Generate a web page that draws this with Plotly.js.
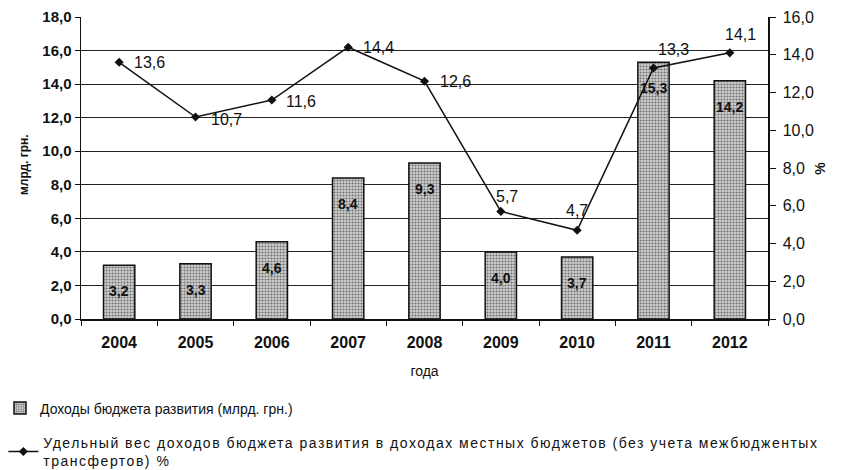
<!DOCTYPE html>
<html><head><meta charset="utf-8">
<script src="https://cdn.plot.ly/plotly-3.0.1.min.js"></script>
<style>body{margin:0;background:#fff}#c{width:842px;height:470px}</style>
</head><body><div id="c"></div>
<script>
const years = ['2004','2005','2006','2007','2008','2009','2010','2011','2012'];
const budgetRevenue = [3.2, 3.3, 4.6, 8.4, 9.3, 4.0, 3.7, 15.3, 14.2];
const sharePercent = [13.6, 10.7, 11.6, 14.4, 12.6, 5.7, 4.7, 13.3, 14.1];
const barName = 'Доходы бюджета развития (млрд. грн.)';
const lineName = 'Удельный вес доходов бюджета развития в доходах местных бюджетов (без учета межбюджентых<br>трансфертов) %';
const yTitle = 'млрд. грн.';
const y2Title = '%';
const xTitle = 'года';

const fmt = v => v.toFixed(1).replace('.', ',');
// label placement offsets (px) for line labels
const lineLabelShift = [[30,0],[31,-2],[29,-1],[30,0],[31,0],[6,15],[0,20],[20,18],[11,18]];

const FF = 'Liberation Sans, Arial, sans-serif';
const font = {family: FF, size: 13, color: '#111'};

const annotations = [];
budgetRevenue.forEach((v, i) => {
  annotations.push({x: i, y: v - 1.55, xref: 'x', yref: 'y', text: '<b>' + fmt(v) + '</b>', showarrow: false,
    font: {family: FF, size: 14, color: '#111'}});
});
sharePercent.forEach((v, i) => {
  annotations.push({x: i, y: v, xref: 'x', yref: 'y2', text: fmt(v), showarrow: false,
    xshift: lineLabelShift[i][0], yshift: lineLabelShift[i][1],
    font: {family: FF, size: 16, color: '#111'}});
});
annotations.push({xref: 'paper', yref: 'paper', x: -0.096, y: 0.51, text: '<b>' + yTitle + '</b>',
  textangle: -90, showarrow: false, font: {family: FF, size: 12, color: '#111'}});
annotations.push({xref: 'paper', yref: 'paper', x: 1.09, y: 0.5, text: '<b>' + y2Title + '</b>',
  textangle: -90, showarrow: false, font: {family: FF, size: 14, color: '#111'}});

const data = [
  {type: 'bar', x: years, y: budgetRevenue, name: barName, width: 0.41,
   marker: {color: '#c0c0c0', line: {color: '#111', width: 1.5},
            pattern: {shape: '.', fgcolor: '#707070', bgcolor: '#d0d0d0', size: 3, solidity: 0.38}},
   legend: 'legend', hoverinfo: 'skip'},
  {type: 'scatter', mode: 'lines+markers', x: years, y: sharePercent, yaxis: 'y2',
   name: '<span style="letter-spacing:1.5px">' + lineName + '</span>',
   line: {color: '#111', width: 1.5}, marker: {symbol: 'diamond', size: 7, color: '#111'},
   legend: 'legend2', hoverinfo: 'skip'}
];

const layout = {
  width: 842, height: 470,
  margin: {l: 81, r: 74, t: 17, b: 151, autoexpand: false},
  paper_bgcolor: '#fff', plot_bgcolor: '#fff',
  separators: ', ',
  font: font,
  showlegend: true,
  legend: {xref: 'container', yref: 'container', x: 0, xanchor: 'left', y: 0.165, yanchor: 'top',
           font: {family: FF, size: 14, color: '#111'}, bgcolor: 'rgba(0,0,0,0)'},
  legend2: {xref: 'container', yref: 'container', x: 0.004, xanchor: 'left', y: 0.092, yanchor: 'top',
           font: {family: FF, size: 14, color: '#111'}, bgcolor: 'rgba(0,0,0,0)'},
  xaxis: {type: 'category', range: [-0.5, 8.5], showline: true, linecolor: '#111', linewidth: 1.5,
          ticks: 'outside', ticklen: 5, tickcolor: '#111', tickson: 'boundaries', ticklabelstandoff: 8,
          tickfont: {family: FF, size: 16, color: '#111', weight: 'bold'},
          title: {text: xTitle, font: {family: FF, size: 14, color: '#111'}, standoff: 16},
          automargin: false},
  yaxis: {range: [0, 18], dtick: 2, tickformat: '.1f', showline: true, linecolor: '#111', linewidth: 1.5,
          ticks: 'outside', ticklen: 5, tickcolor: '#111', showgrid: true, gridcolor: '#222', gridwidth: 1,
          zeroline: false, tickfont: {family: FF, size: 15, color: '#111', weight: 'bold'},
          automargin: false},
  yaxis2: {range: [0, 16], dtick: 2, tickformat: '.1f', overlaying: 'y', side: 'right',
           showline: true, linecolor: '#111', linewidth: 1.5, ticks: 'outside', ticklen: 6, tickcolor: '#111',
           ticklabelstandoff: 4,
           showgrid: false, zeroline: false, tickfont: {family: FF, size: 16, color: '#111'},
           automargin: false},
  annotations: annotations
};

Plotly.newPlot('c', data, layout, {displayModeBar: false, staticPlot: true});
</script></body></html>
